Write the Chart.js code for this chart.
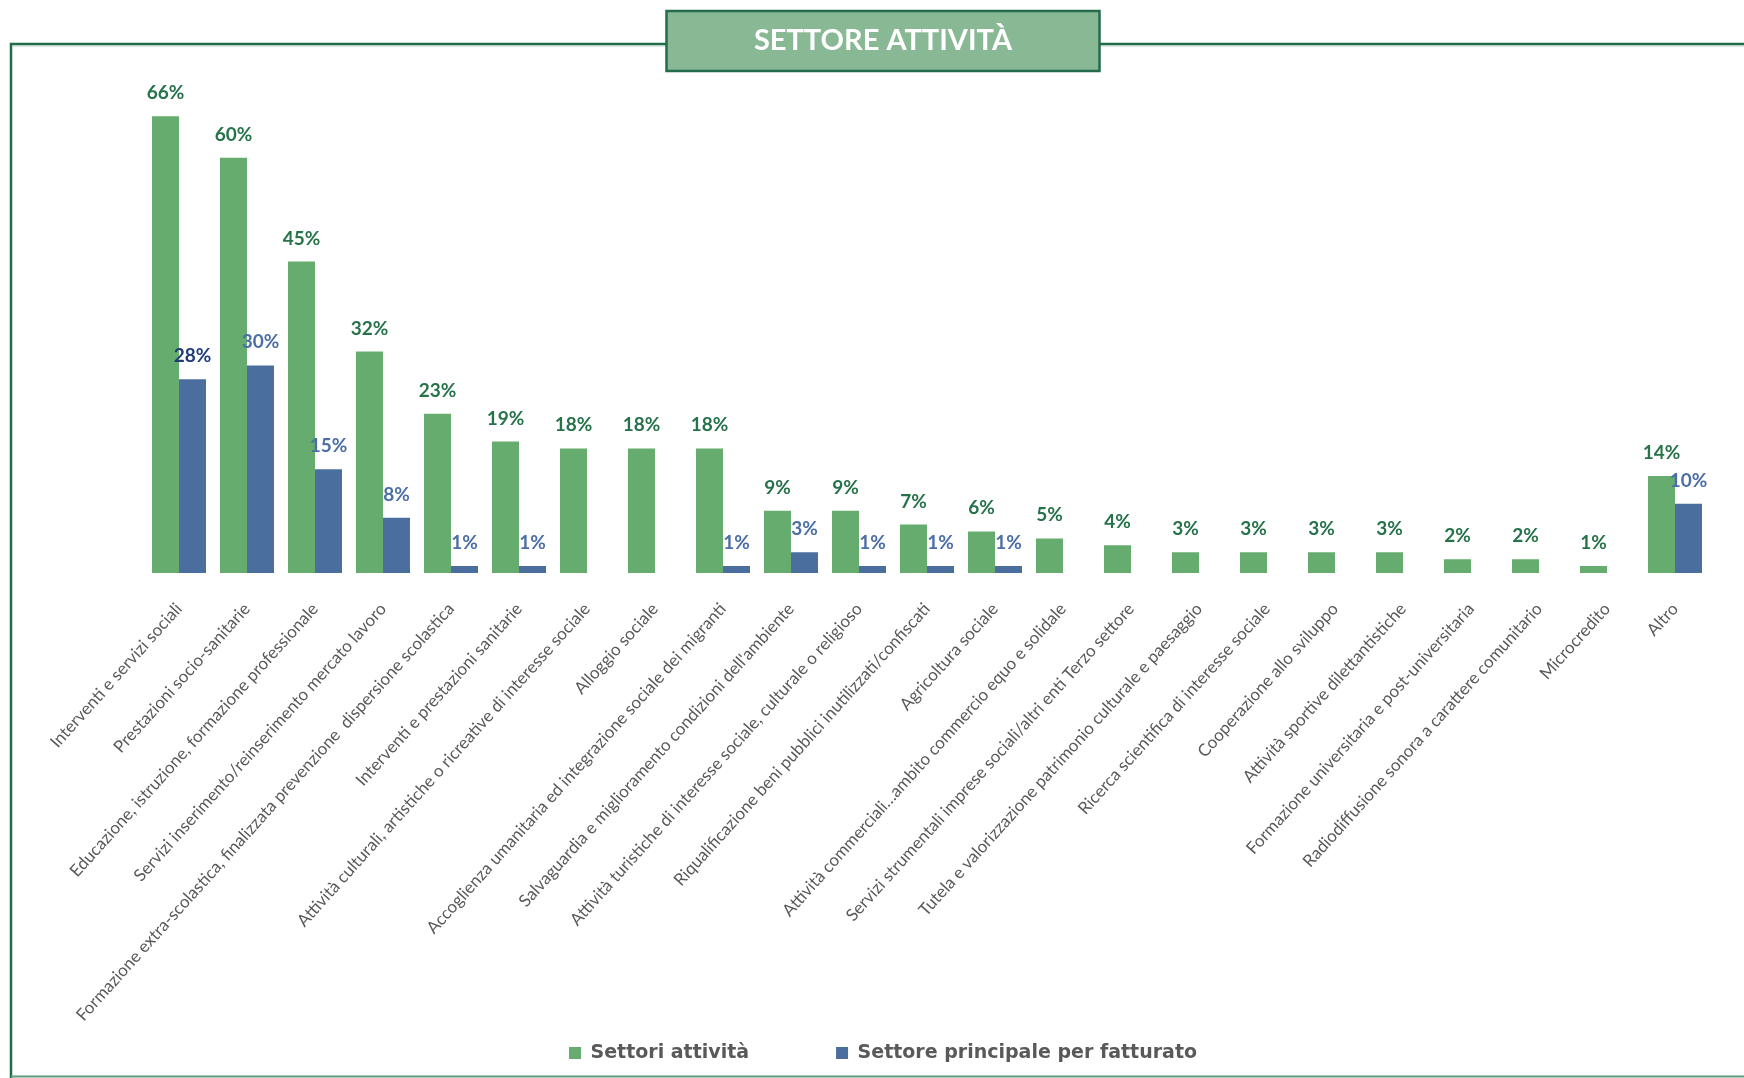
<!DOCTYPE html>
<html>
<head>
<meta charset="utf-8">
<script src="https://cdn.jsdelivr.net/npm/chart.js@4.4.1/dist/chart.umd.min.js"></script>
<style>
  html, body { margin: 0; padding: 0; background: #ffffff; }
  #wrap { width: 1744px; height: 1078px; position: relative; }
</style>
</head>
<body>
<div id="wrap"><canvas id="c" width="1744" height="1078"></canvas></div>
<script>
// ---- data ----
const categories = [
  "Interventi e servizi sociali",
  "Prestazioni socio-sanitarie",
  "Educazione, istruzione, formazione professionale",
  "Servizi inserimento/reinserimento mercato lavoro",
  "Formazione extra-scolastica, finalizzata prevenzione  dispersione scolastica",
  "Interventi e prestazioni sanitarie",
  "Attività culturali, artistiche o ricreative di interesse sociale",
  "Alloggio sociale",
  "Accoglienza umanitaria ed integrazione sociale dei migranti",
  "Salvaguardia e miglioramento condizioni dell'ambiente",
  "Attività turistiche di interesse sociale, culturale o religioso",
  "Riqualificazione beni pubblici inutilizzati/confiscati",
  "Agricoltura sociale",
  "Attività commerciali…ambito commercio equo e solidale",
  "Servizi strumentali imprese sociali/altri enti Terzo settore",
  "Tutela e valorizzazione patrimonio culturale e paesaggio",
  "Ricerca scientifica di interesse sociale",
  "Cooperazione allo sviluppo",
  "Attività sportive dilettantistiche",
  "Formazione universitaria e post-universitaria",
  "Radiodiffusione sonora a carattere comunitario",
  "Microcredito",
  "Altro"
];
const settoriAttivita = [66, 60, 45, 32, 23, 19, 18, 18, 18, 9, 9, 7, 6, 5, 4, 3, 3, 3, 3, 2, 2, 1, 14];
const settorePrincipale = [28, 30, 15, 8, 1, 1, null, null, 1, 3, 1, 1, 1, null, null, null, null, null, null, null, null, null, 10];
const seriesNames = ["Settori attività", "Settore principale per fatturato"];
const chartTitle = "SETTORE ATTIVITÀ";

// ---- styles ----
const GREEN = '#66AC6E';
const BLUE = '#4A6F9E';
const GREEN_LABEL = '#26734A';
const BLUE_LABEL = '#4C6EA6';
const BLUE_LABEL_FIRST = '#1F3E79';
const FRAME = '#236B4B';

const framePlugin = {
  id: 'framePlugin',
  afterLayout(chart) {
    // let the rotated category labels use the full height below the plot
    const x = chart.scales.x;
    if (x) { x.bottom = chart.height; }
  },
  beforeDraw(chart) {
    const ctx = chart.ctx;
    const W = chart.width, H = chart.height;
    ctx.save();
    ctx.fillStyle = '#ffffff';
    ctx.fillRect(0, 0, W, H);
    // outer frame
    ctx.strokeStyle = FRAME;
    ctx.lineWidth = 2.5;
    ctx.beginPath();
    ctx.moveTo(11, H);
    ctx.lineTo(11, 44);
    ctx.lineTo(W, 44);
    ctx.stroke();
    ctx.strokeStyle = 'rgba(140,190,160,0.6)';
    ctx.lineWidth = 1;
    ctx.beginPath();
    ctx.moveTo(13, 46);
    ctx.lineTo(W, 46);
    ctx.stroke();
    ctx.strokeStyle = '#5E9A7C';
    ctx.lineWidth = 2;
    ctx.beginPath();
    ctx.moveTo(11, 1076.5);
    ctx.lineTo(W, 1076.5);
    ctx.stroke();
    // title box
    const tb = chart.titleBlock;
    const cx = (tb.left + tb.right) / 2;
    const bw = 433, bh = 60;
    ctx.fillStyle = '#88B894';
    ctx.fillRect(cx - bw / 2, 11, bw, bh);
    ctx.strokeStyle = FRAME;
    ctx.lineWidth = 2.5;
    ctx.strokeRect(cx - bw / 2, 11, bw, bh);
    ctx.restore();
  }
};

const valueLabels = {
  id: 'valueLabels',
  afterDatasetsDraw(chart) {
    const ctx = chart.ctx;
    ctx.save();
    ctx.font = 'bold 19px Lato';
    ctx.textAlign = 'center';
    ctx.textBaseline = 'alphabetic';
    chart.data.datasets.forEach((ds, di) => {
      const meta = chart.getDatasetMeta(di);
      meta.data.forEach((bar, i) => {
        const v = ds.data[i];
        if (v === null || v === undefined) return;
        if (di === 0) ctx.fillStyle = GREEN_LABEL;
        else ctx.fillStyle = (i === 0) ? BLUE_LABEL_FIRST : BLUE_LABEL;
        ctx.fillText(v + '%', bar.x, bar.y - 17);
      });
    });
    ctx.restore();
  }
};

new Chart(document.getElementById('c'), {
  type: 'bar',
  data: {
    labels: categories,
    datasets: [
      { label: seriesNames[0], data: settoriAttivita, backgroundColor: GREEN, borderWidth: 0 },
      { label: seriesNames[1], data: settorePrincipale, backgroundColor: BLUE, borderWidth: 0 }
    ]
  },
  options: {
    responsive: false,
    animation: false,
    layout: { padding: { left: 22, right: 0, top: 0, bottom: 5.5 } },
    datasets: { bar: { categoryPercentage: 0.794, barPercentage: 1.0 } },
    scales: {
      x: {
        grid: { display: false },
        border: { display: false },
        ticks: {
          autoSkip: false,
          minRotation: 48,
          maxRotation: 48,
          padding: 18,
          color: '#595959',
          font: { family: 'Lato', size: 17 }
        },
        afterFit(s) { s.height = 383.5; }
      },
      y: {
        min: 0, max: 70,
        grid: { display: false },
        border: { display: false },
        ticks: { display: false },
        afterFit(s) { s.width = 123; }
      },
      y2: {
        position: 'right',
        min: 0, max: 70,
        grid: { display: false },
        border: { display: false },
        ticks: { display: false },
        afterFit(s) { s.width = 35; }
      }
    },
    plugins: {
      title: {
        display: true,
        text: chartTitle,
        color: '#ffffff',
        font: { family: 'Lato', size: 29, weight: 'bold' },
        padding: { top: 23.6, bottom: 30.2 }
      },
      legend: {
        position: 'bottom',
        labels: {
          boxWidth: 12,
          boxHeight: 12,
          padding: 87,
          color: '#595959',
          font: { family: 'DejaVu Sans', size: 19, weight: 'bold' }
        }
      },
      tooltip: { enabled: false }
    }
  },
  plugins: [framePlugin, valueLabels]
});
</script>
</body>
</html>
